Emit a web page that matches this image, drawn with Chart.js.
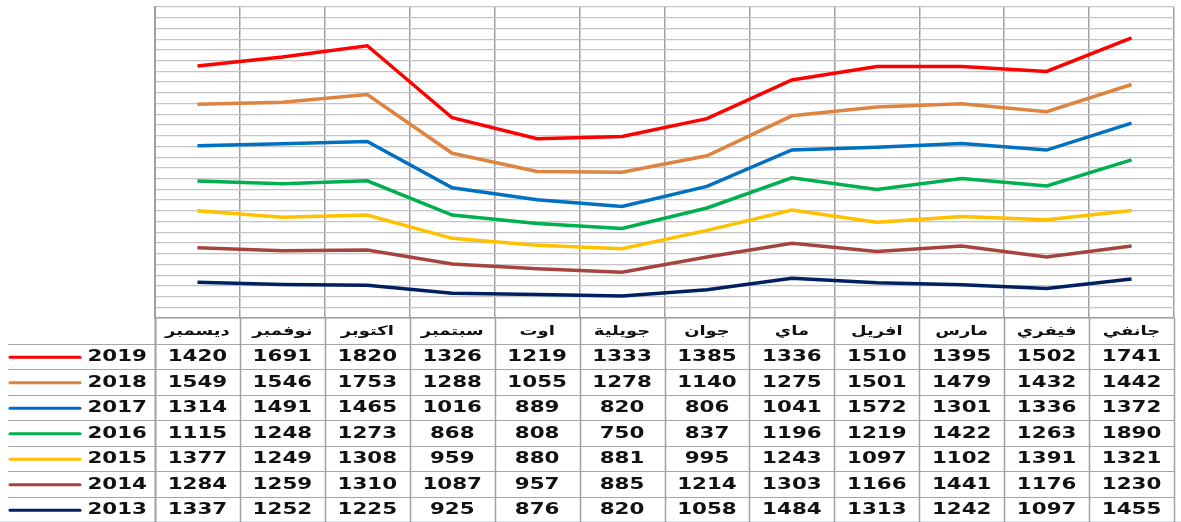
<!DOCTYPE html>
<html>
<head>
<meta charset="utf-8">
<script src="https://cdn.jsdelivr.net/npm/chart.js@4/dist/chart.umd.min.js"></script>
<style>
    html, body { margin: 0; padding: 0; background: #ffffff; }
    canvas { display: block; }
</style>
</head>
<body>
<canvas id="chart" width="1181" height="522"></canvas>
<script>
// months, january first (the axis is drawn right-to-left)
const months = ['جانفي', 'فيفري', 'مارس', 'افريل', 'ماي', 'جوان', 'جويلية', 'اوت', 'سبتمبر', 'اكتوبر', 'نوفمبر', 'ديسمبر'];

const v2013 = [1455, 1097, 1242, 1313, 1484, 1058, 820, 876, 925, 1225, 1252, 1337];
const v2014 = [1230, 1176, 1441, 1166, 1303, 1214, 885, 957, 1087, 1310, 1259, 1284];
const v2015 = [1321, 1391, 1102, 1097, 1243, 995, 881, 880, 959, 1308, 1249, 1377];
const v2016 = [1890, 1263, 1422, 1219, 1196, 837, 750, 808, 868, 1273, 1248, 1115];
const v2017 = [1372, 1336, 1301, 1572, 1041, 806, 820, 889, 1016, 1465, 1491, 1314];
const v2018 = [1442, 1432, 1479, 1501, 1275, 1140, 1278, 1055, 1288, 1753, 1546, 1549];
const v2019 = [1741, 1502, 1395, 1510, 1336, 1385, 1333, 1219, 1326, 1820, 1691, 1420];

const years = ['2013', '2014', '2015', '2016', '2017', '2018', '2019'];
const yearValues = [v2013, v2014, v2015, v2016, v2017, v2018, v2019];
const yearColors = ['#002060', '#a5443f', '#ffc000', '#00b050', '#0070c0', '#dd8441', '#ff0000'];

const rowH = 25.5;
const stretch = 1.38;

// draws a string squeezed wider, like the reference
function wideText(ctx, text, x, y, align) {
    ctx.save();
    ctx.translate(x, y);
    ctx.scale(stretch, 1);
    ctx.textAlign = align;
    ctx.fillText(text, 0, 0);
    ctx.restore();
}

const dataTable = {
    id: 'dataTable',
    afterDraw(chart) {
        const ctx = chart.ctx;
        const area = chart.chartArea;
        const x = chart.scales.x;
        const colW = (area.right - area.left) / months.length;
        const top = area.bottom;
        const bottom = top + rowH * 8;

        ctx.save();
        // horizontal rules
        ctx.strokeStyle = '#a6a6a6';
        ctx.lineWidth = 1.2;
        for (let r = 1; r < 8; r++) {
            const yy = Math.round(top + r * rowH) + 0.5;
            ctx.beginPath();
            ctx.moveTo(8, yy);
            ctx.lineTo(area.right, yy);
            ctx.stroke();
        }
        // vertical rules through the table
        for (let c = 0; c <= months.length; c++) {
            const xx = Math.round(area.left + c * colW) + 0.5;
            ctx.strokeStyle = '#a0a0a0';
            ctx.lineWidth = c === 0 ? 2 : 1.5;
            ctx.beginPath();
            ctx.moveTo(xx, top);
            ctx.lineTo(xx, bottom);
            ctx.stroke();
        }
        // blue bottom edge
        ctx.strokeStyle = '#5b9bd5';
        ctx.lineWidth = 1.5;
        ctx.beginPath();
        ctx.moveTo(0, bottom + 0.5);
        ctx.lineTo(1181, bottom + 0.5);
        ctx.stroke();

        ctx.fillStyle = '#111111';
        ctx.textBaseline = 'middle';

        // month headers
        ctx.font = 'bold 13px "DejaVu Sans"';
        months.forEach((m, i) => {
            wideText(ctx, m, x.getPixelForValue(i), top + rowH / 2 + 1, 'center');
        });

        // one row per year, 2019 on top
        ctx.font = 'bold 15.5px "DejaVu Sans"';
        for (let k = 0; k < years.length; k++) {
            const s = years.length - 1 - k;
            const yy = top + rowH * (k + 1.5) + 1;
            ctx.strokeStyle = yearColors[s];
            ctx.lineWidth = 3;
            ctx.lineCap = 'round';
            ctx.beginPath();
            ctx.moveTo(10, yy);
            ctx.lineTo(80, yy);
            ctx.stroke();
            ctx.fillStyle = '#111111';
            wideText(ctx, years[s], 147, yy, 'right');
            yearValues[s].forEach((v, i) => {
                wideText(ctx, String(v), x.getPixelForValue(i), yy, 'center');
            });
        }
        ctx.restore();
    }
};

new Chart(document.getElementById('chart'), {
    type: 'line',
    data: {
        labels: months,
        datasets: years.map((y, i) => ({
            label: y,
            data: yearValues[i],
            borderColor: yearColors[i],
            backgroundColor: yearColors[i],
            borderWidth: 3.5,
            pointRadius: 0,
            tension: 0,
            fill: false,
        })),
    },
    options: {
        responsive: false,
        animation: false,
        layout: { padding: { left: 155, right: 7, top: 7, bottom: 204 } },
        plugins: { legend: { display: false }, tooltip: { enabled: false } },
        scales: {
            x: {
                reverse: true,
                offset: true,
                ticks: { display: false },
                grid: { offset: true, drawTicks: false, color: '#a0a0a0', lineWidth: 1.5 },
                border: { color: '#a0a0a0', width: 1.5 },
            },
            y: {
                stacked: true,
                min: 0,
                max: 11600,
                ticks: { display: false, stepSize: 400 },
                grid: { drawTicks: false, color: '#c4c4c4', lineWidth: 1.2 },
                border: { color: '#a0a0a0', width: 2 },
            },
        },
    },
    plugins: [dataTable],
});
</script>
</body>
</html>
